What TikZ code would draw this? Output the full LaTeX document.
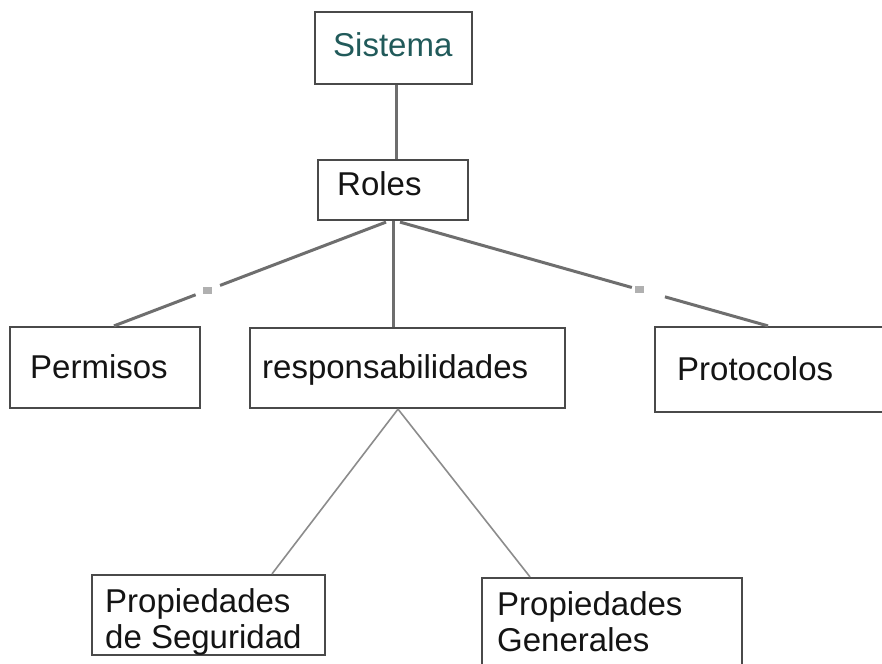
\documentclass[tikz,border=0pt]{standalone}
\usepackage{fontspec}
\setmainfont{Liberation Sans}
\usetikzlibrary{calc}
\definecolor{boxline}{HTML}{4A4A4A}
\definecolor{linkgray}{HTML}{6E6E6E}
\definecolor{thingray}{HTML}{8C8C8C}
\definecolor{tickgray}{HTML}{B0B0B0}
\definecolor{tealtext}{HTML}{215A5A}
\definecolor{inktext}{HTML}{141414}
\begin{document}
\begin{tikzpicture}[x=1pt,y=-1pt,
  box/.style={draw=boxline,line width=2.2pt,fill=white,rectangle,inner sep=0pt},
  lbl/.style={anchor=base west,inner sep=0pt,text=inktext,font=\fontsize{33}{36}\selectfont},
  link/.style={draw=linkgray,line width=3pt},
  thinlink/.style={draw=thingray,line width=1.6pt},
  tickmark/.style={fill=tickgray,draw=none,minimum width=9pt,minimum height=7pt,inner sep=0pt,rectangle}]
\useasboundingbox (0,0) rectangle (882,663);
\fill[white] (0,0) rectangle (882,663);

% boxes
\node[box,minimum width=157pt,minimum height=72pt] (sis) at (393.5,48) {};
\node[box,minimum width=150pt,minimum height=60pt] (rol) at (393,190) {};
\node[box,minimum width=190pt,minimum height=81pt] (per) at (105,367.5) {};
\node[box,minimum width=315pt,minimum height=80pt] (res) at (407.5,368) {};
\node[box,minimum width=232pt,minimum height=85pt] (pro) at (771,369.5) {};
\node[box,minimum width=233pt,minimum height=80pt] (seg) at (208.5,615) {};
\node[box,minimum width=260pt,minimum height=94pt] (gen) at (612,625) {};

% labels
\node[lbl,text=tealtext] (sisT) at (333,57) {Sistema};
\node[lbl] (rolT) at (337,195) {Roles};
\node[lbl] (perT) at (30,378) {Permisos};
\node[lbl] (resT) at (262,378) {responsabilidades};
\node[lbl] (proT) at (677,380) {Protocolos};
\node[lbl] (segA) at (105,612) {Propiedades};
\node[lbl] (segB) at (105,648) {de Seguridad};
\node[lbl] (genA) at (497,615) {Propiedades};
\node[lbl] (genB) at (497,651) {Generales};

% connector end points on the box edges
\coordinate (rolTop) at ($(rol.north)+(3,0)$);
\coordinate (rolL) at ($(rol.south)+(-7,1)$);
\coordinate (rolR) at ($(rol.south)+(7,1)$);
\coordinate (perTop) at ($(per.north)+(9,0)$);
\coordinate (proTop) at ($(pro.north)+(-3,0)$);
\coordinate (resB) at ($(res.south)+(-9.5,0)$);
\coordinate (segTop) at ($(seg.north)+(63.5,0)$);
\coordinate (genTop) at ($(gen.north)+(-82,0)$);

% Sistema -- Roles
\draw[link] (rolTop |- sis.south) -- (rolTop);
% Roles -- responsabilidades
\draw[link] (rol.south) -- (rol.south |- res.north);
% Roles -- Permisos, broken around a small marker
\draw[link] (rolL) -- ($(rolL)!0.61!(perTop)$);
\draw[link] ($(rolL)!0.70!(perTop)$) -- (perTop);
\node[tickmark] (tickL) at ($(rolL)!0.655!(perTop)$) {};
% Roles -- Protocolos, broken around a small marker
\draw[link] (rolR) -- ($(rolR)!0.63!(proTop)$);
\draw[link] ($(rolR)!0.72!(proTop)$) -- (proTop);
\node[tickmark] (tickR) at ($(rolR)!0.652!(proTop)$) {};
% responsabilidades -- the two property boxes
\draw[thinlink] (resB) -- (segTop);
\draw[thinlink] (resB) -- (genTop);
\end{tikzpicture}
\end{document}
